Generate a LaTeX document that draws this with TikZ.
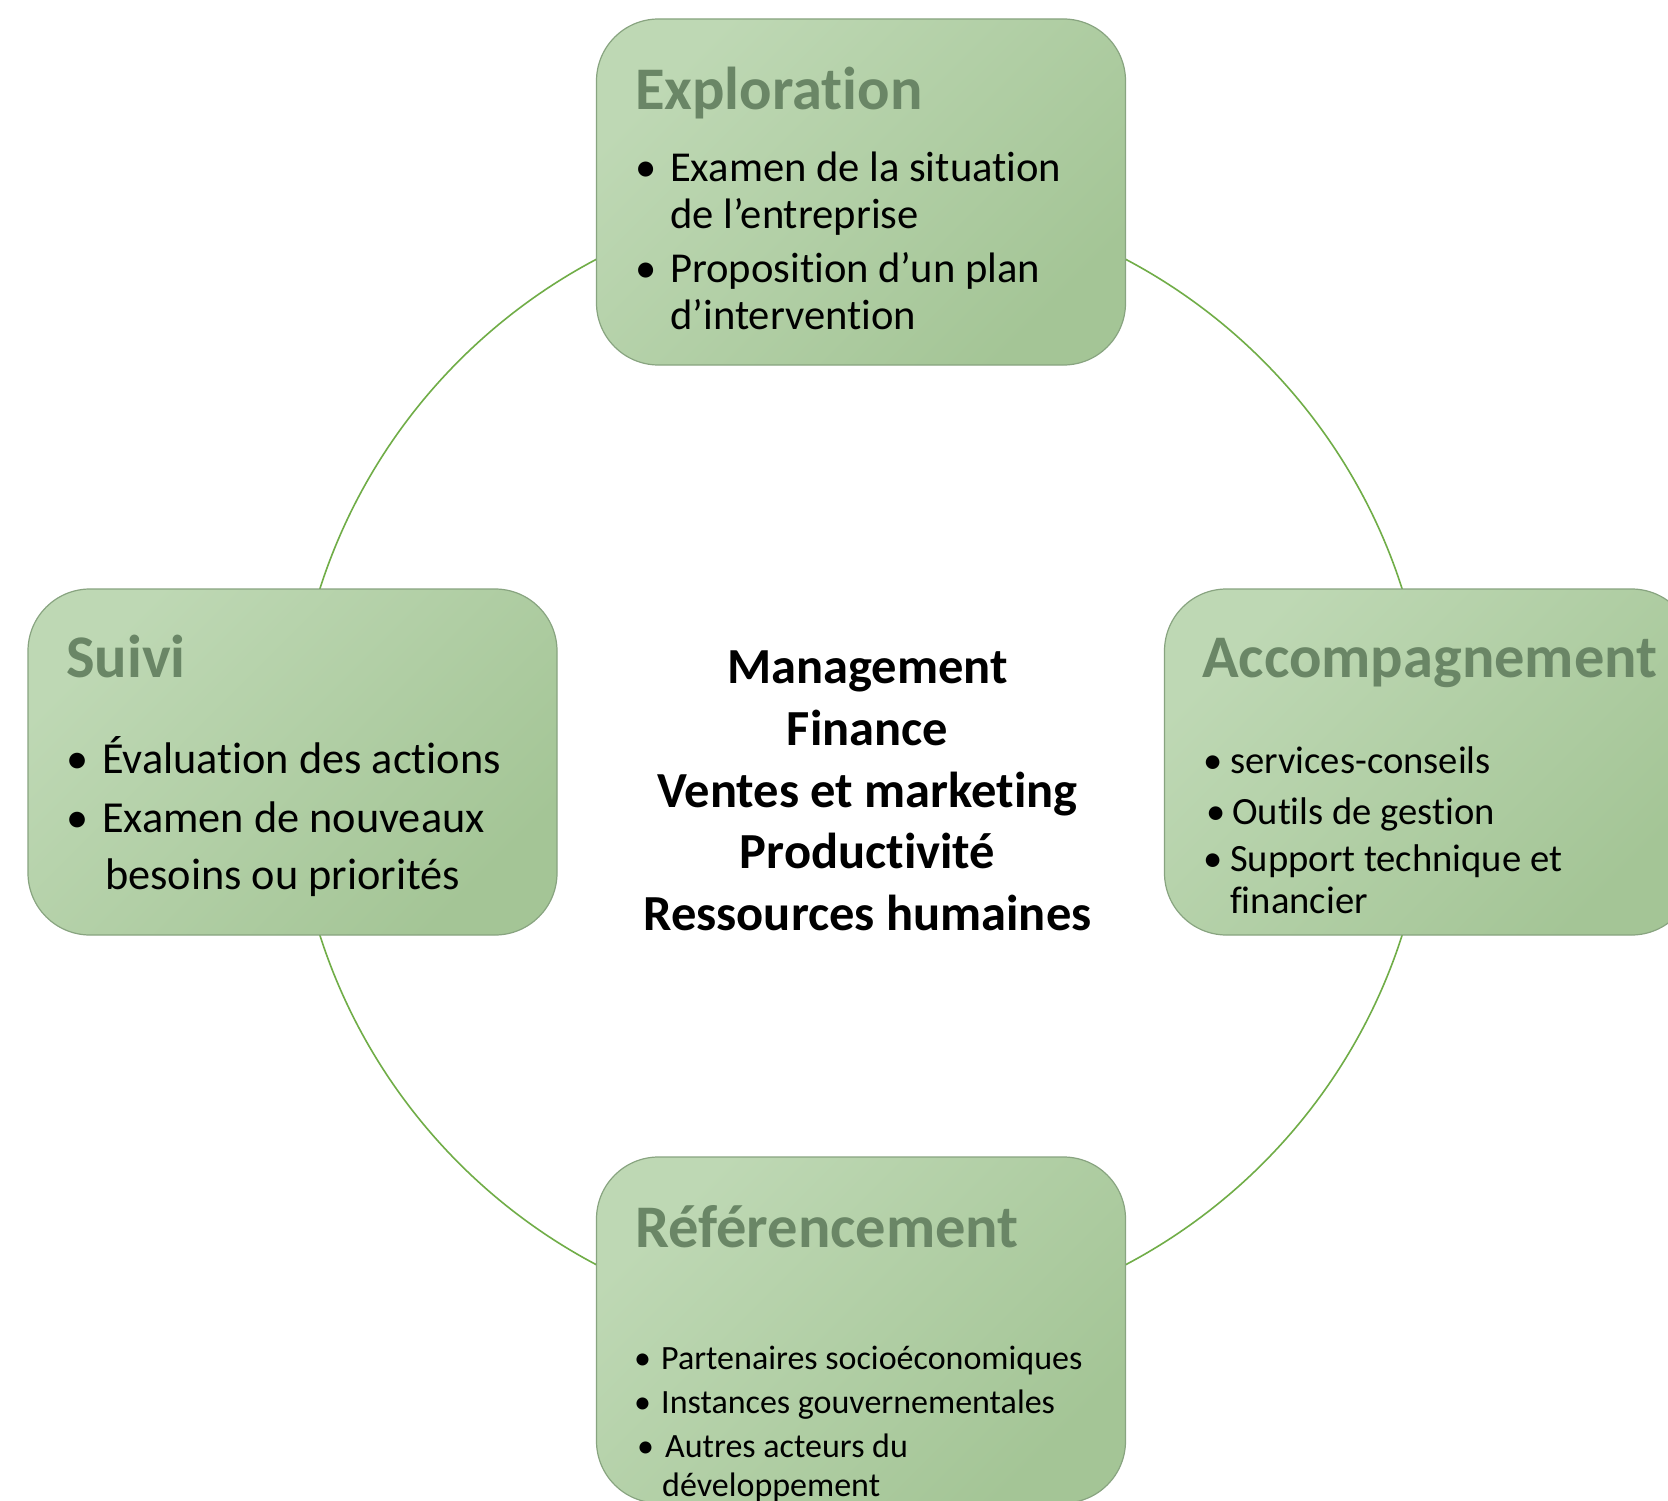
\documentclass[tikz,border=0pt]{standalone}
\usepackage{fontspec}
\setmainfont{Carlito}[Ligatures={NoCommon}]
\definecolor{ring}{RGB}{112,173,71}
\definecolor{boxlight}{RGB}{190,216,180}
\definecolor{boxdark}{RGB}{164,197,150}
\definecolor{boxedge}{RGB}{136,164,128}
\definecolor{titlecol}{RGB}{106,134,102}
\begin{document}
\begin{tikzpicture}[x=1pt,y=-1pt,
  phase/.style={draw=boxedge, line width=1.2pt, rounded corners=62pt,
    minimum width=529pt, minimum height=346pt, inner sep=0pt,
    top color=boxlight, bottom color=boxdark, shading angle=45},
  ttl/.style={anchor=base west, inner sep=0pt, text=titlecol,
    font=\fontsize{60.5}{62}\selectfont\bfseries},
  bla/.style={anchor=base west, inner sep=0pt, font=\fontsize{42.6}{44}\selectfont},
  blb/.style={anchor=base west, inner sep=0pt, font=\fontsize{44.3}{46}\selectfont},
  blc/.style={anchor=base west, inner sep=0pt, font=\fontsize{38.6}{40}\selectfont},
  bld/.style={anchor=base west, inner sep=0pt, font=\fontsize{34}{36}\selectfont},
  mid/.style={anchor=base, inner sep=0pt, font=\fontsize{50.5}{52}\selectfont\bfseries}
]
\clip (0,0) rectangle (1668,1501);
\fill[white] (0,0) rectangle (1668,1501);
\coordinate (c) at (861,762);
\draw[ring, line width=1.6pt] (c) circle[radius=568pt];

\node[phase] (expl) at (861,192) {};
\node[phase] (suiv) at (292.5,762) {};
\node[phase] (acc) at (1429,762) {};
\node[phase] (ref) at (861,1330) {};

% titles
\node[ttl] (texpl) at (635,110) {Exploration};
\node[ttl] (tsuiv) at (66,677) {Suivi};
\node[ttl] (tacc) at (1202,677) {Accompagnement};
\node[ttl] (tref) at (635,1247) {Référencement};

% Exploration
\node[bla] (e1b) at (635,181) {•};
\node[bla] (e1) at (670,181) {Examen de la situation};
\node[bla] (e1c) at (670,228) {de l’entreprise};
\node[bla] (e2b) at (635,282) {•};
\node[bla] (e2) at (670,282) {Proposition d’un plan};
\node[bla] (e2c) at (670,329) {d’intervention};

% Suivi
\node[blb] (s1b) at (66,773) {•};
\node[blb] (s1) at (102,773) {Évaluation des actions};
\node[blb] (s2b) at (66,832) {•};
\node[blb] (s2) at (102,832) {Examen de nouveaux};
\node[blb] (s2c) at (105,889) {besoins ou priorités};

% Accompagnement
\node[blc] (a1b) at (1203,773) {•};
\node[blc] (a1) at (1230,773) {services-conseils};
\node[blc] (a2b) at (1206,824) {•};
\node[blc] (a2) at (1232,824) {Outils de gestion};
\node[blc] (a3b) at (1203,871) {•};
\node[blc] (a3) at (1230,871) {Support technique et};
\node[blc] (a3c) at (1230,913) {financier};

% Referencement
\node[bld] (r1b) at (634,1369) {•};
\node[bld] (r1) at (661,1369) {Partenaires socioéconomiques};
\node[bld] (r2b) at (634,1413) {•};
\node[bld] (r2) at (661,1413) {Instances gouvernementales};
\node[bld] (r3b) at (637,1457) {•};
\node[bld] (r3) at (665,1457) {Autres acteurs du};
\node[bld] (r3c) at (662,1496) {développement};

% centre
\node[mid] (m1) at (867.5,683) {Management};
\node[mid] (m2) at (867.5,745) {Finance};
\node[mid] (m3) at (867.5,807) {Ventes et marketing};
\node[mid] (m4) at (867.5,868) {Productivité};
\node[mid] (m5) at (867.5,930) {Ressources humaines};
\end{tikzpicture}
\end{document}
